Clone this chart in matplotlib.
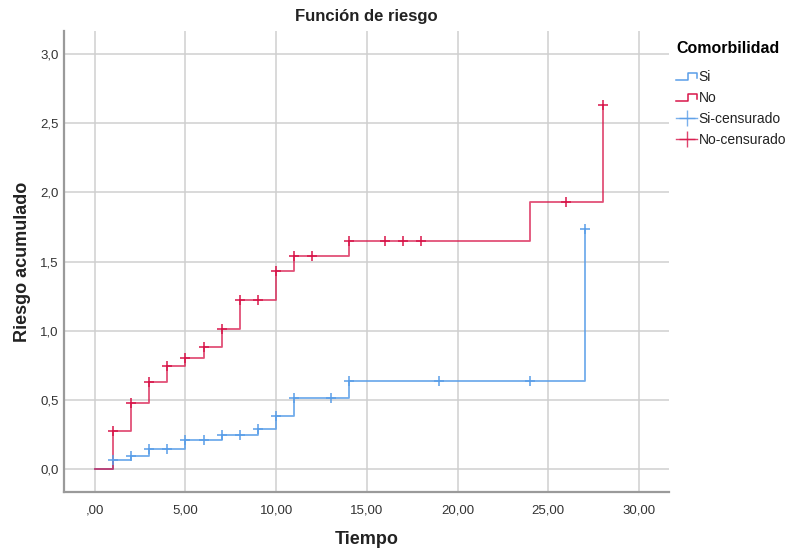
import matplotlib
matplotlib.use('Agg')
import matplotlib.pyplot as plt
from matplotlib.lines import Line2D
from matplotlib.legend_handler import HandlerLine2D
from matplotlib.ticker import FuncFormatter

plt.rcParams['font.family'] = ['Liberation Sans', 'DejaVu Sans']

# cumulative hazard, step after each time
si_t = [0, 1, 2, 3, 5, 7, 9, 10, 11, 14, 27]
si_h = [0.0, 0.065, 0.094, 0.147, 0.21, 0.247, 0.288, 0.38, 0.515, 0.637, 1.735]
si_end = 27
si_cens_t = [1, 2, 3, 4, 5, 6, 7, 8, 9, 10, 11, 13, 14, 19, 24, 27]

no_t = [0, 1, 2, 3, 4, 5, 6, 7, 8, 10, 11, 14, 24, 28]
no_h = [0.0, 0.276, 0.479, 0.632, 0.745, 0.806, 0.879, 1.01, 1.225, 1.43, 1.54, 1.65, 1.93, 2.635]
no_end = 28
no_cens_t = [1, 2, 3, 4, 5, 6, 7, 8, 9, 10, 11, 12, 14, 16, 17, 18, 26, 28]

blue = '#5A9EE8'
red = '#D8164A'


def value_at(ts, hs, t):
    v = hs[0]
    for a, b in zip(ts, hs):
        if t >= a:
            v = b
    return v


class StepHandler(HandlerLine2D):
    def create_artists(self, legend, orig_handle, xdescent, ydescent,
                       width, height, fontsize, trans):
        x0, x1 = -xdescent, -xdescent + width
        xm = x0 + width * 0.55
        y0, y1 = -ydescent + height * 0.15, -ydescent + height * 0.85
        ln = Line2D([x0, xm, xm, x1, x1], [y0, y0, y1, y1, y0 + height * 0.2],
                    color=orig_handle.get_color(), lw=1.1)
        ln.set_transform(trans)
        return [ln]


fig = plt.figure(figsize=(7.9, 5.5), dpi=100)
ax = fig.add_axes([0.081, 0.1055, 0.766, 0.838])

si_x = si_t + [si_end]
si_y = si_h + [si_h[-1]]
no_x = no_t + [no_end]
no_y = no_h + [no_h[-1]]

ax.step(si_x, si_y, where='post', color=blue, lw=1.3, alpha=0.85, zorder=3)
ax.step(no_x, no_y, where='post', color=red, lw=1.3, alpha=0.75, zorder=3)

ax.plot(si_cens_t, [value_at(si_t, si_h, t) for t in si_cens_t], ls='none',
        marker='+', ms=7, mew=1.1, color=blue, zorder=4)
ax.plot(no_cens_t, [value_at(no_t, no_h, t) for t in no_cens_t], ls='none',
        marker='+', ms=7, mew=1.1, color=red, zorder=4)

ax.set_xlim(-1.69, 31.66)
ax.set_ylim(-0.166, 3.167)
ax.set_xticks([0, 5, 10, 15, 20, 25, 30])
ax.set_yticks([0, 0.5, 1.0, 1.5, 2.0, 2.5, 3.0])
ax.xaxis.set_major_formatter(FuncFormatter(
    lambda v, p: ',00' if v == 0 else ('%.2f' % v).replace('.', ',')))
ax.yaxis.set_major_formatter(FuncFormatter(lambda v, p: ('%.1f' % v).replace('.', ',')))
ax.tick_params(length=0, labelsize=9.5, colors='#333333')
ax.tick_params(axis='x', pad=9)
ax.tick_params(axis='y', pad=4)

ax.grid(True, color='#CFCFCF', lw=1.1)
ax.set_axisbelow(True)
for s in ['top', 'right']:
    ax.spines[s].set_visible(False)
for s in ['left', 'bottom']:
    ax.spines[s].set_color('#9A9A9A')
    ax.spines[s].set_linewidth(1.6)

ax.set_title('Función de riesgo', fontsize=12, fontweight='bold', color='#222222', pad=7)
ax.set_xlabel('Tiempo', fontsize=13, fontweight='bold', color='#222222')
ax.set_ylabel('Riesgo acumulado', fontsize=13, fontweight='bold', color='#222222')
ax.xaxis.set_label_coords(0.5, -0.085)
ax.yaxis.set_label_coords(-0.055, 0.5)

handles = [Line2D([], [], color=blue), Line2D([], [], color=red),
           Line2D([], [], color=blue, marker='+', ms=11, mew=1, lw=1, alpha=0.8),
           Line2D([], [], color=red, marker='+', ms=11, mew=1, lw=1, alpha=0.8)]
labels = ['Si', 'No', 'Si-censurado', 'No-censurado']
leg = fig.legend(handles, labels, loc='upper left', bbox_to_anchor=(0.849, 0.935),
                 frameon=False, title='Comorbilidad', fontsize=10,
                 title_fontproperties={'weight': 'bold', 'size': 11.5},
                 handlelength=1.5, handletextpad=0.1, labelspacing=0.5,
                 borderaxespad=0,
                 handler_map={handles[0]: StepHandler(), handles[1]: StepHandler()})
leg._legend_box.align = 'left'
leg._legend_box.sep = 10
for t in leg.get_texts():
    t.set_color('#222222')

fig.savefig('out.png', dpi=100)
